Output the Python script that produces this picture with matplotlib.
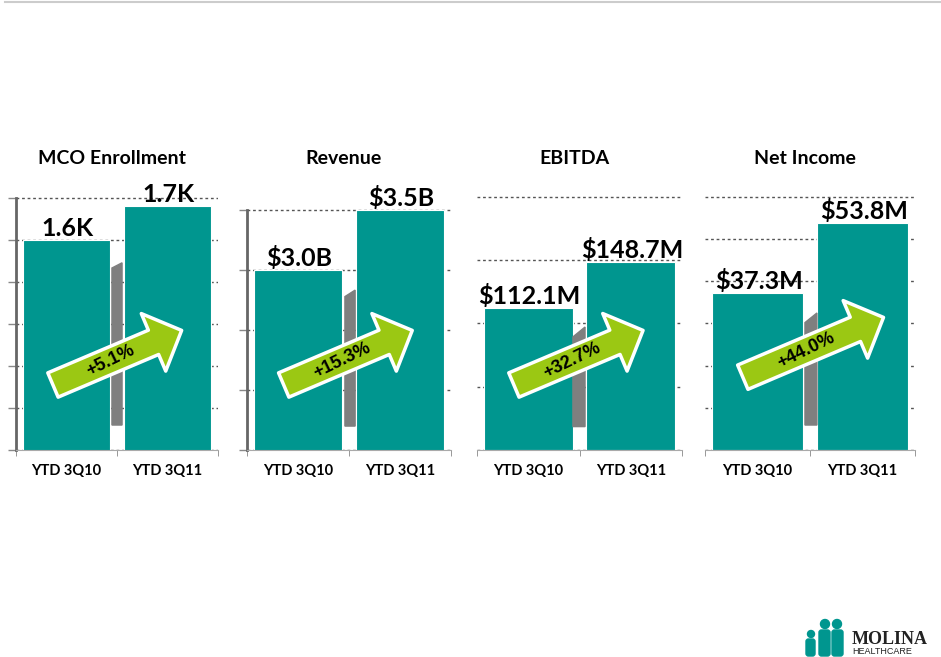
import matplotlib
matplotlib.use("Agg")
import matplotlib.pyplot as plt
from matplotlib.patches import Circle, FancyBboxPatch
from matplotlib.lines import Line2D

plt.rcParams["font.family"] = ["Lato", "DejaVu Sans"]

# data
titles = ["MCO Enrollment", "Revenue", "EBITDA", "Net Income"]
periods = ["YTD 3Q10", "YTD 3Q11"]
enrollment = [1.60, 1.68]
revenue = [3.0, 3.5]
ebitda = [112.1, 148.7]
net_income = [37.3, 53.8]
value_labels = [["1.6K", "1.7K"], ["$3.0B", "$3.5B"],
                ["$112.1M", "$148.7M"], ["$37.3M", "$53.8M"]]
growth = ["+5.1%", "+15.3%", "+32.7%", "+44.0%"]
series = [enrollment, revenue, ebitda, net_income]

# axis scales for each panel (truncated for the first two)
ylims = [(1.1, 1.719), (1.5, 3.667), (0, 205.5), (0, 61.66)]
yticks = [[1.1, 1.2, 1.3, 1.4, 1.5, 1.6, 1.7],
          [1.5, 2.0, 2.5, 3.0, 3.5],
          [0, 50, 100, 150, 200],
          [0, 10, 20, 30, 40, 50, 60]]
show_spine = [True, True, False, False]

# layout in pixels: left, right of each panel
W, H = 941, 657
panel_x = [(16, 218), (247, 451), (477, 682), (705, 915)]
ax_bottom, ax_top = 450, 190
# arrow tail / tip in axes fraction
arrows = [((0.183, 0.25), (0.82, 0.46)),
          ((0.18, 0.25), (0.81, 0.46)),
          ((0.18, 0.25), (0.81, 0.46)),
          ((0.18, 0.28), (0.85, 0.51))]
# grey shadow strip between the bars (axes fraction)
shadows = [(0.475, 0.525, 0.70, 0.72, 0.096),
           (0.48, 0.53, 0.59, 0.615, 0.092),
           (0.468, 0.527, 0.435, 0.473, 0.09),
           (0.476, 0.533, 0.49, 0.527, 0.096)]

teal = "#00968F"
lime = "#9BC813"

fig = plt.figure(figsize=(W / 100, H / 100), dpi=100)

for i in range(4):
    x0, x1 = panel_x[i]
    ax = fig.add_axes([x0 / W, 1 - ax_bottom / H, (x1 - x0) / W, (ax_bottom - ax_top) / H])
    ax.bar([0, 1], series[i], width=0.87, color=teal, edgecolor="white", linewidth=0.8, zorder=2)
    ax.set_xlim(-0.5, 1.5)
    ax.set_ylim(*ylims[i])
    ax.set_yticks(yticks[i])
    ax.set_yticklabels([])
    ax.set_axisbelow(True)
    ax.yaxis.grid(True, color="#555555", linestyle=(0, (2, 2)), linewidth=1)

    for s in ["top", "right"]:
        ax.spines[s].set_visible(False)
    ax.spines["bottom"].set_color("#aaaaaa")
    ax.spines["bottom"].set_linewidth(0.8)
    if show_spine[i]:
        ax.spines["left"].set_color("#666666")
        ax.spines["left"].set_linewidth(2)
        ax.spines["left"].set_bounds(ylims[i][0], yticks[i][-1])
        ax.tick_params(axis="y", length=6, color="#888888", width=1)
    else:
        ax.spines["left"].set_visible(False)
        ax.tick_params(axis="y", length=0)

    ax.set_xticks([0, 1])
    ax.set_xticklabels(periods, fontsize=10.5, fontweight="bold")
    ax.set_xticks([-0.5, 0.5, 1.5], minor=True)
    ax.tick_params(axis="x", which="major", length=0, pad=10)
    ax.tick_params(axis="x", which="minor", length=4, color="#888888")

    # title
    ax.text(0.475, 1.12, titles[i], transform=ax.transAxes, ha="center", va="center",
            fontsize=14, fontweight="bold")

    # value labels
    for j, v in enumerate(series[i]):
        ax.annotate(value_labels[i][j], (j, v), xytext=(1, 0), textcoords="offset points",
                    ha="center", va="bottom", fontsize=18, fontweight="bold",
                    annotation_clip=False)

    # grey strip
    sx0, sx1, syl, syr, sb = shadows[i]
    ax.fill([sx0, sx1, sx1, sx0], [sb, sb, syr, syl], transform=ax.transAxes,
            color="#7f7f7f", zorder=3)

    # growth arrow
    tail, tip = arrows[i]
    ax.annotate("", xy=tip, xytext=tail, xycoords="axes fraction",
                arrowprops=dict(arrowstyle="simple,head_length=22,head_width=45,tail_width=19",
                                mutation_scale=1, fc=lime, ec="white", lw=2.5,
                                shrinkA=0, shrinkB=0), zorder=4)
    tx = tail[0] + 0.45 * (tip[0] - tail[0])
    ty = tail[1] + 0.45 * (tip[1] - tail[1])
    ax.text(tx, ty, growth[i], transform=ax.transAxes, ha="center", va="center",
            rotation=26, fontsize=13, fontweight="bold", zorder=5,
            family=["Liberation Sans", "DejaVu Sans"])

# overlay for the header rule and the logo
lax = fig.add_axes([0, 0, 1, 1], zorder=-1)
lax.set_xlim(0, W)
lax.set_ylim(H, 0)
lax.axis("off")
lax.add_line(Line2D([5, W], [1.5, 1.5], color="#cccccc", lw=1.5))

for cx, cy, r in [(825, 624, 4.5), (837, 624, 4.5), (811, 634, 3.5)]:
    lax.add_patch(Circle((cx, cy), r, color=teal))
for bx, by, bw, bh in [(819, 630, 11, 26), (832, 630, 11, 26), (806, 639, 9, 17)]:
    lax.add_patch(FancyBboxPatch((bx, by), bw, bh, boxstyle="round,pad=0,rounding_size=2.5",
                                 color=teal))
lax.text(852, 639, "MOLINA", fontsize=13, fontweight="bold", family="Liberation Serif",
         ha="left", va="center", color="#222222")
lax.text(852, 651.5, "HEALTHCARE", fontsize=6.5, family="Liberation Sans",
         ha="left", va="center", color="#222222")

fig.savefig("out.png", dpi=100)
